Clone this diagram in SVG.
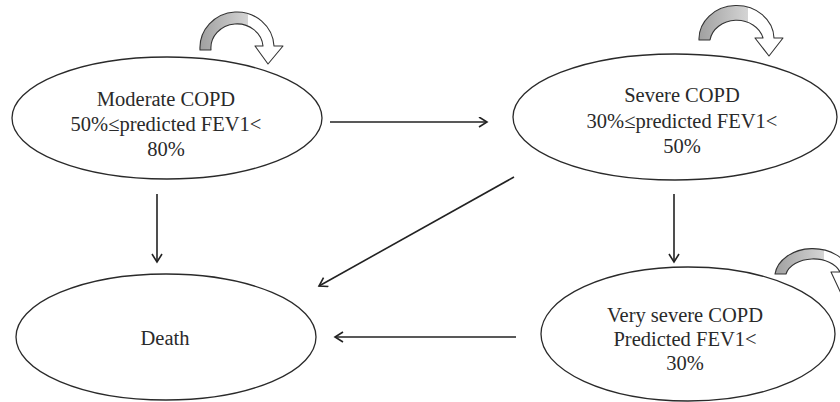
<svg xmlns="http://www.w3.org/2000/svg" width="840" height="402" viewBox="0 0 840 402">
<style>
.node ellipse{fill:#fff;stroke:#2a2a2a;stroke-width:1.3}
.node text{font-family:'Liberation Serif','DejaVu Serif',serif;font-size:20.5px;fill:#2a2a2a;text-anchor:middle}
.conn line{stroke:#222;stroke-width:1.6;marker-end:url(#ah)}
.loop{fill:url(#lg);stroke:#333;stroke-width:1.1;stroke-linejoin:round}
</style>
<defs>
<marker id="ah" markerUnits="userSpaceOnUse" markerWidth="12" markerHeight="12" refX="9" refY="5.5" orient="auto">
<path d="M1,0.5 L9,5.5 L1,10.5" fill="none" stroke="#222" stroke-width="1.6"/>
</marker>
<linearGradient id="lg" x1="0" y1="0" x2="1" y2="0">
<stop offset="0" stop-color="#a0a0a0"/>
<stop offset="0.58" stop-color="#d4d4d4"/>
<stop offset="0.58" stop-color="#ffffff"/>
<stop offset="1" stop-color="#ffffff"/>
</linearGradient>
</defs>
<rect width="840" height="402" fill="#fff"/>
<g id="moderate" class="node">
<ellipse cx="167" cy="118" rx="155" ry="61"/>
<text x="166" y="106">Moderate COPD</text>
<text x="166" y="131">50%≤predicted FEV1&lt;</text>
<text x="166" y="156">80%</text>
</g>
<g id="severe" class="node">
<ellipse cx="675" cy="117" rx="162" ry="63"/>
<text x="682" y="102">Severe COPD</text>
<text x="682" y="128">30%≤predicted FEV1&lt;</text>
<text x="682" y="153">50%</text>
</g>
<g id="very-severe" class="node">
<ellipse cx="688" cy="334" rx="147" ry="67"/>
<text x="685" y="322">Very severe COPD</text>
<text x="685" y="346">Predicted FEV1&lt;</text>
<text x="685" y="370">30%</text>
</g>
<g id="death" class="node">
<ellipse cx="166" cy="337" rx="150" ry="63"/>
<text x="165" y="345">Death</text>
</g>
<g id="connectors" class="conn">
<line x1="330" y1="122" x2="487" y2="122"/>
<line x1="514" y1="177" x2="319" y2="286"/>
<line x1="157" y1="194" x2="157" y2="262"/>
<line x1="674" y1="194" x2="674" y2="262"/>
<line x1="516" y1="337" x2="335" y2="337"/>
<path class="loop" d="M 200 50 A 36 35 0 0 1 274 46 L 283 46 L 268 64 L 255 46 L 263 46 A 26 24 0 0 0 211 50 Z"/>
<path class="loop" d="M 699 40 A 37 33 0 0 1 774 38 L 783 38 L 769 56 L 755 38 L 763 38 A 27 23 0 0 0 710 40 Z"/>
<path class="loop" d="M 775 274 A 38 29 0 0 1 850 272 L 859 272 L 845 302 L 831 272 L 840 272 A 28 19 0 0 0 786 274 Z"/>
</g>
</svg>
